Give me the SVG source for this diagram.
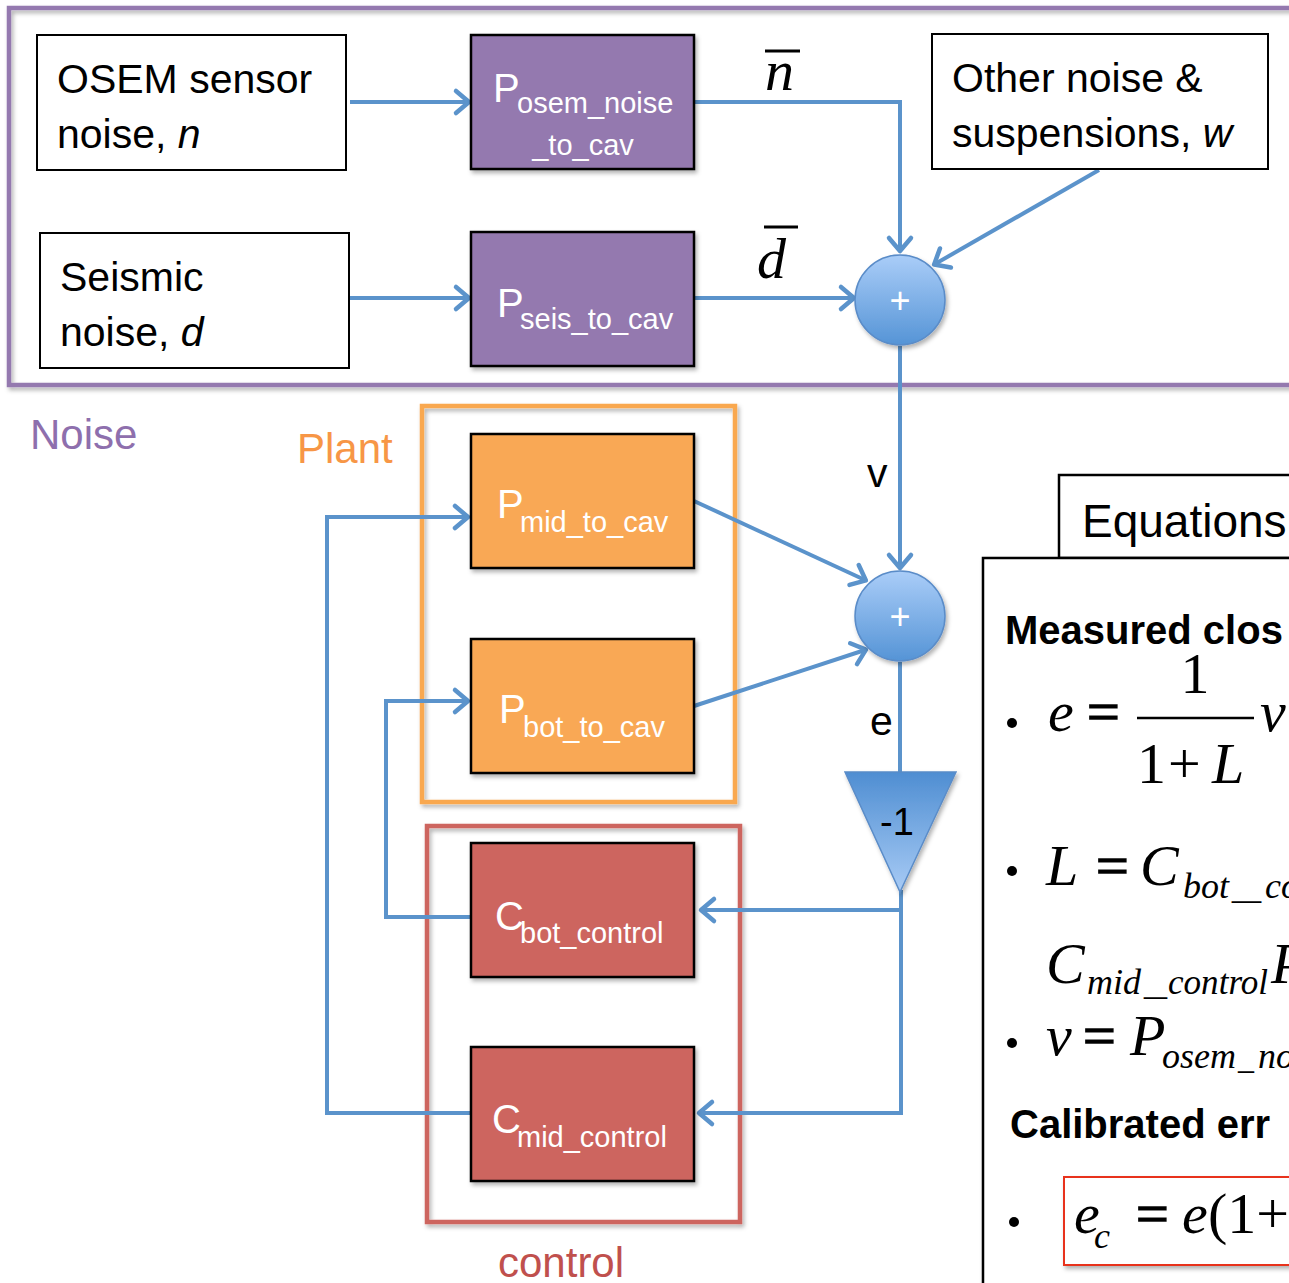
<svg xmlns="http://www.w3.org/2000/svg" width="1289" height="1283" viewBox="0 0 1289 1283">
<style>
.sans{font-family:"Liberation Sans",Arial,sans-serif}
.lbl{font-family:"Liberation Sans",Arial,sans-serif;font-size:41px;fill:#000}
.wbox{fill:#fff;stroke:#000;stroke-width:2}
.pur{fill:#9479af;stroke:#000;stroke-width:2.5}
.ora{fill:#f9a855;stroke:#000;stroke-width:2.5}
.red{fill:#cd655f;stroke:#000;stroke-width:2.5}
.big{font-family:"Liberation Sans",Arial,sans-serif;font-size:40px;fill:#fff}
.sub{font-family:"Liberation Sans",Arial,sans-serif;font-size:29px;fill:#fff}
.con{fill:none;stroke:#5b93cb;stroke-width:4;stroke-linejoin:miter}
.math{font-family:"Liberation Serif","Times New Roman",serif;font-size:58px;fill:#000}
.eq{font-family:"Liberation Serif","Times New Roman",serif;font-size:58px;fill:#000;stroke:#000;stroke-width:1.5}
.mi{font-family:"Liberation Serif","Times New Roman",serif;font-size:58px;font-style:italic;fill:#000}
.ms{font-family:"Liberation Serif","Times New Roman",serif;font-size:36px;font-style:italic;fill:#000}
.bold{font-family:"Liberation Sans",Arial,sans-serif;font-size:40px;font-weight:bold;fill:#000}
</style>
<defs>
<marker id="arr" markerUnits="userSpaceOnUse" markerWidth="34" markerHeight="34" viewBox="-20 -17 34 34" refX="-1" refY="0" orient="auto">
<path d="M-13,-11 L0,0 L-13,11" fill="none" stroke="#5b93cb" stroke-width="4.5" stroke-linecap="round" stroke-linejoin="round"/>
</marker>
<linearGradient id="cg" x1="0" y1="0" x2="0" y2="1">
<stop offset="0" stop-color="#aacdf8"/>
<stop offset="1" stop-color="#5594d6"/>
</linearGradient>
<linearGradient id="tg" x1="0" y1="0" x2="0" y2="1">
<stop offset="0" stop-color="#4f8ed2"/>
<stop offset="1" stop-color="#a8cbf5"/>
</linearGradient>
<filter id="sh" x="-10%" y="-10%" width="130%" height="130%">
<feDropShadow dx="2" dy="3" stdDeviation="2" flood-color="#000" flood-opacity="0.3"/>
</filter>
</defs>

<g id="frames">
<rect id="noise-frame" x="9" y="8" width="1300" height="377" fill="none" stroke="#9479af" stroke-width="4.5" filter="url(#sh)"/>
<rect id="plant-frame" x="422" y="406" width="313" height="396" fill="none" stroke="#f9a84f" stroke-width="4.5" filter="url(#sh)"/>
<rect id="control-frame" x="427" y="826" width="313" height="396" fill="none" stroke="#cd655f" stroke-width="4.5" filter="url(#sh)"/>
<text x="30" y="449" class="sans" font-size="42" fill="#8e6fad">Noise</text>
<text x="297" y="463" class="sans" font-size="42" fill="#f79646">Plant</text>
<text x="498" y="1277" class="sans" font-size="42" fill="#c0504d">control</text>
</g>

<g id="connectors">
<line class="con" x1="350" y1="102" x2="468" y2="102" marker-end="url(#arr)"/>
<line class="con" x1="350" y1="298" x2="468" y2="298" marker-end="url(#arr)"/>
<polyline class="con" points="694,102 900,102 900,250" marker-end="url(#arr)"/>
<line class="con" x1="694" y1="298" x2="853" y2="298" marker-end="url(#arr)"/>
<line class="con" x1="1099" y1="170" x2="935" y2="264" marker-end="url(#arr)"/>
<line class="con" x1="900" y1="346" x2="900" y2="567" marker-end="url(#arr)"/>
<line class="con" x1="694" y1="501" x2="865" y2="580" marker-end="url(#arr)"/>
<line class="con" x1="694" y1="706" x2="865" y2="650" marker-end="url(#arr)"/>
<line class="con" x1="900" y1="662" x2="900" y2="772"/>
<polyline class="con" points="901,890 901,1113 700,1113" marker-end="url(#arr)"/>
<line class="con" x1="901" y1="910" x2="702" y2="910" marker-end="url(#arr)"/>
<polyline class="con" points="471,917 386,917 386,701 467,701" marker-end="url(#arr)"/>
<polyline class="con" points="471,1113 327,1113 327,517 467,517" marker-end="url(#arr)"/>
<text x="867" y="487" class="lbl" font-size="40">v</text>
<text x="870" y="735" class="lbl" font-size="40">e</text>
<text x="765" y="90" class="mi" font-size="62">n</text>
<line x1="765" y1="51" x2="800" y2="51" stroke="#000" stroke-width="3"/>
<text x="757" y="278" class="mi" font-size="62">d</text>
<line x1="764" y1="227" x2="798" y2="227" stroke="#000" stroke-width="3"/>
</g>

<g id="osem">
<rect class="wbox" x="37" y="35" width="309" height="135"/>
<text class="lbl" x="57" y="93">OSEM sensor</text>
<text class="lbl" x="57" y="148">noise, <tspan font-style="italic">n</tspan></text>
</g>
<g id="seismic">
<rect class="wbox" x="40" y="233" width="309" height="135"/>
<text class="lbl" x="60" y="291">Seismic</text>
<text class="lbl" x="60" y="346">noise, <tspan font-style="italic">d</tspan></text>
</g>
<g id="other">
<rect class="wbox" x="932" y="34" width="336" height="135"/>
<text class="lbl" x="952" y="92">Other noise &amp;</text>
<text class="lbl" x="952" y="147">suspensions, <tspan font-style="italic">w</tspan></text>
</g>

<g id="p-osem">
<rect class="pur" x="471" y="35" width="223" height="134" filter="url(#sh)"/>
<text class="big" x="493" y="102">P</text>
<text class="sub" x="517" y="113">osem_noise</text>
<text class="sub" x="583" y="155" text-anchor="middle">_to_cav</text>
</g>
<g id="p-seis">
<rect class="pur" x="471" y="232" width="223" height="134" filter="url(#sh)"/>
<text class="big" x="497" y="317">P</text>
<text class="sub" x="520" y="329">seis_to_cav</text>
</g>
<g id="p-mid">
<rect class="ora" x="471" y="434" width="223" height="134" filter="url(#sh)"/>
<text class="big" x="497" y="518">P</text>
<text class="sub" x="520" y="532">mid_to_cav</text>
</g>
<g id="p-bot">
<rect class="ora" x="471" y="639" width="223" height="134" filter="url(#sh)"/>
<text class="big" x="499" y="723">P</text>
<text class="sub" x="523" y="737">bot_to_cav</text>
</g>
<g id="c-bot">
<rect class="red" x="471" y="843" width="223" height="134" filter="url(#sh)"/>
<text class="big" x="495" y="930">C</text>
<text class="sub" x="520" y="943">bot_control</text>
</g>
<g id="c-mid">
<rect class="red" x="471" y="1047" width="223" height="134" filter="url(#sh)"/>
<text class="big" x="492" y="1133">C</text>
<text class="sub" x="517" y="1147">mid_control</text>
</g>

<g id="sum1">
<circle cx="900" cy="300" r="45" fill="url(#cg)" stroke="#5a8cc8" stroke-width="1.5" filter="url(#sh)"/>
<text x="900" y="313" class="sans" font-size="36" fill="#fff" text-anchor="middle">+</text>
</g>
<g id="sum2">
<circle cx="900" cy="616" r="45" fill="url(#cg)" stroke="#5a8cc8" stroke-width="1.5" filter="url(#sh)"/>
<text x="900" y="629" class="sans" font-size="36" fill="#fff" text-anchor="middle">+</text>
</g>
<g id="gain">
<polygon points="845,772 956,772 900,892" fill="url(#tg)" stroke="#5a8cc8" stroke-width="1.5" filter="url(#sh)"/>
<text x="897" y="835" class="sans" font-size="38" fill="#000" text-anchor="middle">-1</text>
</g>

<g id="equations">
<rect x="1059" y="475" width="260" height="83" fill="#fff" stroke="#000" stroke-width="2.5"/>
<text x="1082" y="537" class="sans" font-size="46">Equations</text>
<rect x="983" y="558" width="340" height="760" fill="#fff" stroke="#000" stroke-width="2.5" filter="url(#sh)"/>
<text x="1005" y="644" class="bold">Measured clos</text>
<circle cx="1012" cy="723" r="5" fill="#000"/>
<text x="1048" y="731" class="mi">e</text>
<text x="1087" y="731" class="eq">=</text>
<text x="1195" y="693" class="math" text-anchor="middle">1</text>
<line x1="1137" y1="718" x2="1254" y2="718" stroke="#000" stroke-width="2.5"/>
<text x="1137" y="783" class="math">1</text>
<text x="1168" y="783" class="math">+</text>
<text x="1212" y="783" class="mi">L</text>
<text x="1260" y="731" class="mi">v</text>

<circle cx="1012" cy="871" r="5" fill="#000"/>
<text x="1046" y="885" class="mi">L</text>
<text x="1096" y="885" class="eq">=</text>
<text x="1140" y="885" class="mi">C</text>
<text x="1183" y="898" class="ms">bot</text>
<text x="1232" y="898" class="ms" textLength="29" lengthAdjust="spacingAndGlyphs">_</text>
<text x="1265" y="898" class="ms">co</text>

<text x="1046" y="983" class="mi">C</text>
<text x="1087" y="994" class="ms">mid</text>
<text x="1144" y="994" class="ms" textLength="23" lengthAdjust="spacingAndGlyphs">_</text>
<text x="1168" y="994" class="ms" textLength="100" lengthAdjust="spacingAndGlyphs">control</text>
<text x="1271" y="983" class="mi">P</text>

<circle cx="1012" cy="1043" r="5" fill="#000"/>
<text x="1046" y="1055" class="mi">v</text>
<text x="1083" y="1055" class="eq">=</text>
<text x="1130" y="1055" class="mi">P</text>
<text x="1162" y="1068" class="ms">osem</text>
<text x="1238" y="1068" class="ms" textLength="16" lengthAdjust="spacingAndGlyphs">_</text>
<text x="1258" y="1068" class="ms">no</text>

<text x="1010" y="1138" class="bold">Calibrated err</text>
<circle cx="1014" cy="1222" r="5" fill="#000"/>
<rect x="1064" y="1177" width="260" height="88" fill="#fff" stroke="#e8321e" stroke-width="2" filter="url(#sh)"/>
<text x="1074" y="1233" class="mi">e</text>
<text x="1094" y="1248" class="ms">c</text>
<text x="1136" y="1233" class="eq">=</text>
<text x="1182" y="1233" class="mi">e</text>
<text x="1208" y="1233" class="math">(1+</text>
</g>
</svg>
